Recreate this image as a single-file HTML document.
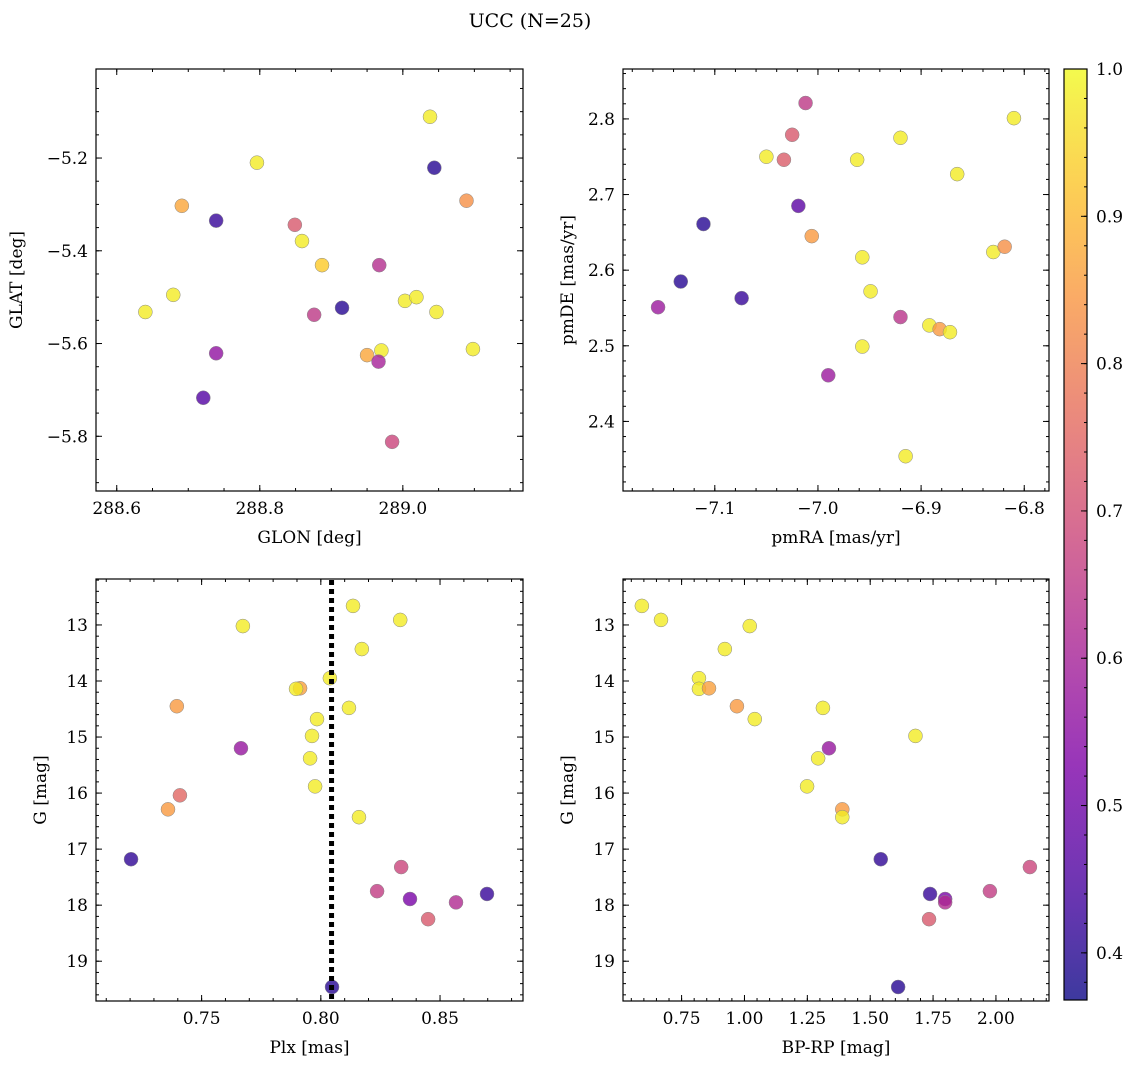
<!DOCTYPE html>
<html><head><meta charset="utf-8"><style>
html,body{margin:0;padding:0;background:#fff;}
svg{display:block;font-family:"DejaVu Serif","Liberation Serif",serif;}
</style></head><body>
<svg id="fig" width="1136" height="1068" viewBox="0 0 1136 1068">
<text x="530" y="27" font-size="19" text-anchor="middle">UCC (N=25)</text>
</svg>
<script>
// Panel 1: GLON / GLAT
const glon1 = [289.038,289.044,288.796,288.691,289.089,288.739,288.849,288.859,288.887,288.967,288.679,288.640,288.915,289.003,289.019,289.047,288.876,289.098,288.739,288.950,288.970,288.966,288.721,288.985];
const glat1 = [-5.111,-5.221,-5.210,-5.303,-5.292,-5.335,-5.344,-5.379,-5.431,-5.431,-5.495,-5.532,-5.523,-5.508,-5.500,-5.532,-5.538,-5.612,-5.621,-5.625,-5.615,-5.639,-5.717,-5.812];
const prob1 = [0.98,0.40,0.98,0.87,0.83,0.42,0.72,0.98,0.93,0.63,0.98,0.98,0.40,0.98,0.98,0.98,0.65,0.98,0.56,0.87,0.98,0.60,0.46,0.68];
// Panel 2: pmRA / pmDE
const pmra2 = [-7.012,-7.025,-7.050,-7.033,-6.962,-6.920,-6.865,-6.810,-7.111,-7.019,-7.006,-6.957,-6.949,-6.830,-6.819,-7.133,-7.074,-7.155,-6.920,-6.892,-6.882,-6.872,-6.957,-6.990,-6.915];
const pmde2 = [2.821,2.779,2.750,2.746,2.746,2.775,2.727,2.801,2.661,2.685,2.645,2.617,2.572,2.624,2.631,2.585,2.563,2.551,2.538,2.527,2.522,2.518,2.499,2.461,2.354];
const prob2 = [0.65,0.72,0.98,0.73,0.98,0.98,0.98,0.98,0.40,0.47,0.85,0.98,0.98,0.98,0.83,0.40,0.42,0.58,0.64,0.98,0.85,0.98,0.98,0.58,0.98];
// Panel 3: Plx / G
const plx3 = [0.8135,0.8333,0.7673,0.8172,0.8038,0.7913,0.7896,0.7396,0.8118,0.7984,0.7963,0.7665,0.7955,0.7976,0.7409,0.7359,0.8160,0.7204,0.8337,0.8236,0.8374,0.8697,0.8567,0.8450,0.8047];
const g3 = [12.66,12.91,13.02,13.43,13.95,14.13,14.14,14.45,14.48,14.68,14.98,15.20,15.38,15.88,16.04,16.29,16.43,17.18,17.32,17.75,17.89,17.80,17.95,18.25,19.46];
const prob3 = [0.98,0.98,0.98,0.98,0.98,0.86,0.98,0.85,0.98,0.98,0.98,0.57,0.98,0.98,0.75,0.85,0.98,0.41,0.68,0.66,0.52,0.42,0.62,0.72,0.40];
const plxLine = [0.8045];
// Panel 4: BP-RP / G
const bprp4 = [0.592,0.668,1.021,0.922,0.819,0.819,0.859,0.970,1.041,1.312,1.680,1.336,1.293,1.249,1.389,1.389,1.542,2.135,1.976,1.738,1.798,1.798,1.734,1.611];
const g4 = [12.66,12.91,13.02,13.43,13.95,14.14,14.13,14.45,14.68,14.48,14.98,15.20,15.38,15.88,16.29,16.43,17.18,17.32,17.75,17.80,17.89,17.95,18.25,19.46];
const prob4 = [0.98,0.98,0.98,0.98,0.98,0.98,0.86,0.85,0.98,0.98,0.98,0.57,0.98,0.98,0.85,0.98,0.41,0.68,0.66,0.42,0.52,0.62,0.72,0.40];
// tick labels
const ticks1x = [288.6,288.8,289.0]; const ticks1y = [-5.2,-5.4,-5.6,-5.8];
const ticks2x = [-7.1,-7.0,-6.9,-6.8]; const ticks2y = [2.4,2.5,2.6,2.7,2.8];
const ticks3x = [0.75,0.80,0.85]; const ticksG = [13,14,15,16,17,18,19];
const ticks4x = [0.75,1.00,1.25,1.50,1.75,2.00];
const cbTicks = [0.4,0.5,0.6,0.7,0.8,0.9,1.0];
const vmin = 0.368, vmax = 1.0;

const NS = "http://www.w3.org/2000/svg";
const svg = document.getElementById('fig');
function mk(tag, attrs, parent){const e=document.createElementNS(NS,tag);for(const k in attrs)e.setAttribute(k,attrs[k]);(parent||svg).appendChild(e);return e;}
const plasmaStops=[[0,13,8,135],[0.125,75,3,161],[0.25,125,3,168],[0.375,168,34,150],[0.5,203,70,121],[0.625,229,107,93],[0.75,248,148,65],[0.875,253,195,40],[1,240,249,33]];
function plasma(t){t=Math.max(0,Math.min(1,t));for(let i=1;i<plasmaStops.length;i++){const a=plasmaStops[i-1],b=plasmaStops[i];if(t<=b[0]){const f=(t-a[0])/(b[0]-a[0]);return `rgb(${Math.round(a[1]+f*(b[1]-a[1]))},${Math.round(a[2]+f*(b[2]-a[2]))},${Math.round(a[3]+f*(b[3]-a[3]))})`;}}return 'rgb(240,249,33)';}
function cmap(p){return plasma((p-vmin)/(vmax-vmin));}
function lin(d0,d1,r0,r1){return v=>r0+(v-d0)*(r1-r0)/(d1-d0);}

function panel(name,box,xd,yd,xt,yt,xMinor,yMinor,xfmt,yfmt,xlab,ylab,xs,ys,ps){
  const [L,T,R,B]=box;
  const g=mk('g',{});
  
  
  const X=lin(xd[0],xd[1],L,R), Y=lin(yd[0],yd[1],B,T);
  const clip=mk('clipPath',{id:name+'-clip'},g);mk('rect',{x:L,y:T,width:R-L,height:B-T},clip);
  const pts=mk('g',{'clip-path':`url(#${name}-clip)`},g);
  for(let i=0;i<xs.length;i++){
    const c=mk('circle',{cx:X(xs[i]),cy:Y(ys[i]),r:7,fill:cmap(ps[i]),'fill-opacity':0.8,stroke:'#888','stroke-width':0.5},pts);
    
    
  }
  const fr=mk('rect',{x:L,y:T,width:R-L,height:B-T,fill:'none',stroke:'#000','stroke-width':1.2},g);
  
  
  const lo=Math.min(xd[0],xd[1]),hi=Math.max(xd[0],xd[1]);
  for(let v=Math.ceil(lo/xMinor-1e-6)*xMinor;v<=hi+1e-9;v+=xMinor){const x=X(v);mk('line',{x1:x,x2:x,y1:B,y2:B-3,stroke:'#000'},g);mk('line',{x1:x,x2:x,y1:T,y2:T+3,stroke:'#000'},g);}
  const ylo=Math.min(yd[0],yd[1]),yhi=Math.max(yd[0],yd[1]);
  for(let v=Math.ceil(ylo/yMinor-1e-6)*yMinor;v<=yhi+1e-9;v+=yMinor){const y=Y(v);mk('line',{x1:L,x2:L+3,y1:y,y2:y,stroke:'#000'},g);mk('line',{x1:R,x2:R-3,y1:y,y2:y,stroke:'#000'},g);}
  xt.forEach(v=>{const x=X(v);mk('line',{x1:x,x2:x,y1:B,y2:B-6,stroke:'#000'},g);mk('line',{x1:x,x2:x,y1:T,y2:T+6,stroke:'#000'},g);
    const t=mk('text',{x:x,y:B+23,'font-size':17,'text-anchor':'middle'},g);t.textContent=xfmt(v);
    
    });
  yt.forEach(v=>{const y=Y(v);mk('line',{x1:L,x2:L+6,y1:y,y2:y,stroke:'#000'},g);mk('line',{x1:R,x2:R-6,y1:y,y2:y,stroke:'#000'},g);
    const t=mk('text',{x:L-8,y:y+6,'font-size':17,'text-anchor':'end'},g);t.textContent=yfmt(v);
    
    });
  const xl=mk('text',{x:(L+R)/2,y:B+52,'font-size':17,'text-anchor':'middle'},g);xl.textContent=xlab;
  
  
  const yl=mk('text',{x:0,y:0,'font-size':17,'text-anchor':'middle',transform:`translate(${L-ylab[1]},${(T+B)/2}) rotate(-90)`},g);yl.textContent=ylab[0];
  
  
  return {X,Y,g};
}
const neg=v=>(v<0?'\u2212':'')+Math.abs(v).toFixed(1);
panel('glon-glat-panel',[96,69,523,491],[288.571,289.168],[-5.918,-5.008],ticks1x,ticks1y,0.05,0.05,neg,neg,'GLON [deg]',['GLAT [deg]',74],glon1,glat1,prob1);
panel('pm-panel',[623,69,1049,491],[-7.189,-6.776],[2.308,2.866],ticks2x,ticks2y,0.02,0.02,neg,v=>v.toFixed(1),'pmRA [mas/yr]',['pmDE [mas/yr]',50],pmra2,pmde2,prob2);
const p3=panel('plx-g-panel',[96,579,523,1001],[0.7057,0.8848],[19.71,12.18],ticks3x,ticksG,0.01,0.2,v=>v.toFixed(2),v=>String(v),'Plx [mas]',['G [mag]',50],plx3,g3,prob3);
panel('cmd-panel',[623,579,1049,1001],[0.517,2.211],[19.71,12.18],ticks4x,ticksG,0.05,0.2,v=>v.toFixed(2),v=>String(v),'BP-RP [mag]',['G [mag]',50],bprp4,g4,prob4);
plxLine.forEach(v=>{
  const ln=mk('line',{x1:p3.X(v),x2:p3.X(v),y1:580,y2:1000,stroke:'#000','stroke-width':5,'stroke-dasharray':'5,4'});
  
  
});
// colorbar
const cbL=1064,cbR=1087,cbT=69,cbB=1000;
const defs=mk('defs',{});const lg=mk('linearGradient',{id:'cbg',x1:0,y1:1,x2:0,y2:0},defs);
for(let i=0;i<=20;i++){mk('stop',{offset:i/20,'stop-color':plasma(i/20)},lg);}
const cb=mk('g',{});


mk('rect',{x:cbL,y:cbT,width:cbR-cbL,height:cbB-cbT,fill:'url(#cbg)','fill-opacity':0.8},cb);
mk('rect',{x:cbL,y:cbT,width:cbR-cbL,height:cbB-cbT,fill:'none',stroke:'#000','stroke-width':1.2},cb);
const CY=lin(vmin,vmax,cbB,cbT);
for(let v=0.38;v<=1.0001;v+=0.02){const y=CY(v);mk('line',{x1:cbR,x2:cbR-3,y1:y,y2:y,stroke:'#000'},cb);}
cbTicks.forEach(v=>{const y=CY(v);mk('line',{x1:cbR,x2:cbR-6,y1:y,y2:y,stroke:'#000'},cb);
  const t=mk('text',{x:cbR+9,y:y+6,'font-size':17},cb);t.textContent=v.toFixed(1);
  
  });
</script>
</body></html>
